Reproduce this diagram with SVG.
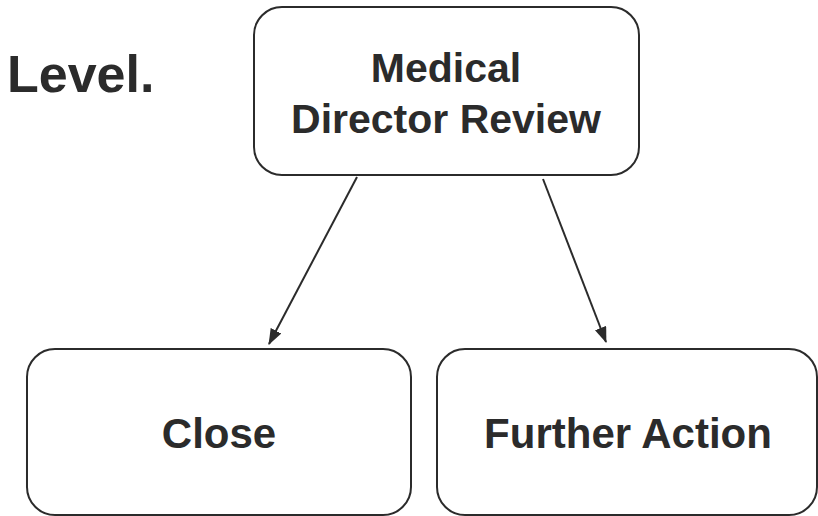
<svg xmlns="http://www.w3.org/2000/svg" width="818" height="516" viewBox="0 0 818 516">
  <style>
    .box { fill: #ffffff; stroke: #2b2b2b; stroke-width: 2; }
    .lbl { font-family: "Liberation Sans", Arial, sans-serif; font-weight: bold; fill: #2b2b2b; text-anchor: middle; }
    .edge { stroke: #2b2b2b; stroke-width: 2; fill: none; marker-end: url(#arrow); }
  </style>
  <defs>
    <marker id="arrow" viewBox="0 0 16 12" refX="15" refY="6" markerWidth="16" markerHeight="12" markerUnits="userSpaceOnUse" orient="auto">
      <path d="M0,0 L16,6 L0,12 Z" fill="#2b2b2b"/>
    </marker>
  </defs>
  <rect width="818" height="516" fill="#ffffff"/>

  <text x="7" y="92" class="lbl" style="text-anchor:start" font-size="52">Level.</text>

  <g id="connectors">
    <path class="edge" d="M357,177 L269,344"/>
    <path class="edge" d="M543,179 L606,342"/>
  </g>

  <g id="review">
    <rect class="box" x="254" y="7" width="385" height="168" rx="28"/>
    <text class="lbl" x="446" y="82" font-size="41">Medical</text>
    <text class="lbl" x="446" y="133" font-size="41">Director Review</text>
  </g>

  <g id="close">
    <rect class="box" x="27" y="349" width="384" height="166" rx="28"/>
    <text class="lbl" x="219" y="448" font-size="42">Close</text>
  </g>

  <g id="further-action">
    <rect class="box" x="437" y="349" width="380" height="166" rx="28"/>
    <text class="lbl" x="628" y="448" font-size="42">Further Action</text>
  </g>
</svg>
